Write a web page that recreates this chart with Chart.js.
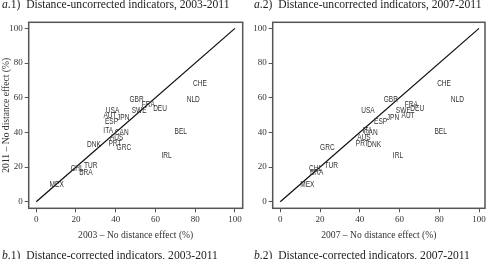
<!DOCTYPE html>
<html>
<head>
<meta charset="utf-8">
<script src="https://cdn.jsdelivr.net/npm/chart.js@4.4.0/dist/chart.umd.min.js"></script>
<style>
  html, body { margin: 0; padding: 0; background: #fff; }
  #wrap { position: relative; width: 488px; height: 259px; overflow: hidden; }
  canvas { position: absolute; top: 0; }
  .ttl { position: absolute; font-family: 'Liberation Serif', serif; font-size: 11.6px; color: #222; white-space: nowrap; line-height: 13px; }
</style>
</head>
<body>
<div id="wrap">
  <canvas id="c1" width="244" height="259" style="left:0"></canvas>
  <canvas id="c2" width="244" height="259" style="left:244px"></canvas>
  <div class="ttl" style="left:2px;top:-2px"><i>a</i>.1)&nbsp;&nbsp;Distance-uncorrected indicators, 2003-2011</div>
  <div class="ttl" style="left:254px;top:-2px"><i>a</i>.2)&nbsp;&nbsp;Distance-uncorrected indicators, 2007-2011</div>
  <div class="ttl" style="left:2px;top:249px"><i>b</i>.1)&nbsp;&nbsp;Distance-corrected indicators, 2003-2011</div>
  <div class="ttl" style="left:254px;top:249px"><i>b</i>.2)&nbsp;&nbsp;Distance-corrected indicators, 2007-2011</div>
</div>
<script>
/* ---------- data ---------- */
const COUNTRIES = ['CHE','NLD','GBR','FRA','DEU','SWE','USA','AUT','JPN','ESP','ITA','CAN','AUS','DNK','PRT','GRC','BEL','IRL','CHL','TUR','BRA','MEX'];
const Y_2011 = [67.9, 58.6, 59.0, 56.2, 53.5, 52.3, 52.5, 49.4, 48.7, 46.1, 40.8, 39.8, 37.1, 33.1, 33.3, 31.4, 40.4, 26.5, 19.3, 20.8, 16.7, 9.6];
const X_2003 = [82.4, 79.0, 50.5, 56.4, 62.3, 51.8, 38.4, 37.1, 43.8, 37.9, 36.2, 43.0, 40.5, 29.0, 39.6, 44.1, 72.7, 65.6, 20.6, 27.4, 25.0, 10.3];
const X_2007 = [82.4, 89.1, 55.6, 65.9, 68.9, 61.9, 44.1, 64.3, 56.7, 50.5, 43.8, 45.5, 42.1, 47.2, 41.3, 23.7, 80.7, 59.2, 17.8, 25.7, 18.3, 13.6];
const DIAG = [0, 100];
const TICKS = [0, 20, 40, 60, 80, 100];

const SERIF = "'Liberation Serif', 'Times New Roman', serif";
const INK = '#333';

// country codes are drawn as the markers (squeezed a bit, like a narrow face), plus the frame
const codesPlugin = {
  id: 'codes',
  afterDatasetsDraw(chart) {
    const ctx = chart.ctx;
    const meta = chart.getDatasetMeta(1);
    const a = chart.chartArea;
    const sx = 0.8;
    ctx.save();
    ctx.font = "8.2px 'Liberation Sans', Arial, sans-serif";
    ctx.fillStyle = INK;
    ctx.textAlign = 'center';
    ctx.textBaseline = 'middle';
    meta.data.forEach((pt, i) => {
      ctx.save();
      ctx.translate(pt.x, pt.y);
      ctx.scale(sx, 1);
      ctx.fillText(COUNTRIES[i], 0, 0);
      ctx.restore();
    });
    ctx.strokeStyle = '#555';
    ctx.lineWidth = 1.5;
    ctx.strokeRect(a.left, a.top, a.right - a.left, a.bottom - a.top);
    ctx.restore();
  }
};

function axisOpts(min, max, title, fitFn, titlePad) {
  return {
    type: 'linear', min, max,
    afterBuildTicks: s => { s.ticks = TICKS.map(v => ({ value: v })); },
    afterFit: fitFn,
    grid: { display: true, drawOnChartArea: false, drawTicks: true, tickLength: 4, color: '#555', lineWidth: 1 },
    border: { display: false },
    ticks: { padding: 2, color: INK, font: { family: SERIF, size: 9 }, maxRotation: 0, autoSkip: false },
    title: { display: !!title, text: title, color: INK, font: { family: SERIF, size: 9.6 }, padding: titlePad }
  };
}

function makePanel(id, xs, xTitle, yTitle, padRight, xMax) {
  const pts = xs.map((x, i) => ({ x, y: Y_2011[i] }));
  const diag = DIAG.map(v => ({ x: v, y: v }));
  return new Chart(document.getElementById(id), {
    type: 'scatter',
    data: {
      datasets: [
        { type: 'line', data: diag, borderColor: '#111', borderWidth: 1.3, pointRadius: 0, fill: false },
        { data: pts, pointRadius: 0, showLine: false }
      ]
    },
    options: {
      responsive: false, animation: false,
      layout: { padding: { left: 0, right: padRight, top: 22.3, bottom: 0 } },
      plugins: { legend: { display: false }, tooltip: { enabled: false } },
      scales: {
        x: Object.assign(axisOpts(-3.8, xMax, xTitle, s => { s.height = 50.7; }, { top: 0, bottom: 18.2 }), { position: 'bottom' }),
        y: Object.assign(axisOpts(-3.8, 103.5, yTitle, s => { s.width = 28.7; }, { top: 1.2, bottom: 0 }), { position: 'left' })
      }
    },
    plugins: [codesPlugin]
  });
}

makePanel('c1', X_2003, '2003 \u2013 No distance effect (%)', '2011 \u2013 No distance effect (%)', 1.3, 103.9);
makePanel('c2', X_2007, '2007 \u2013 No distance effect (%)', '', 3, 103.0);
</script>
</body>
</html>
